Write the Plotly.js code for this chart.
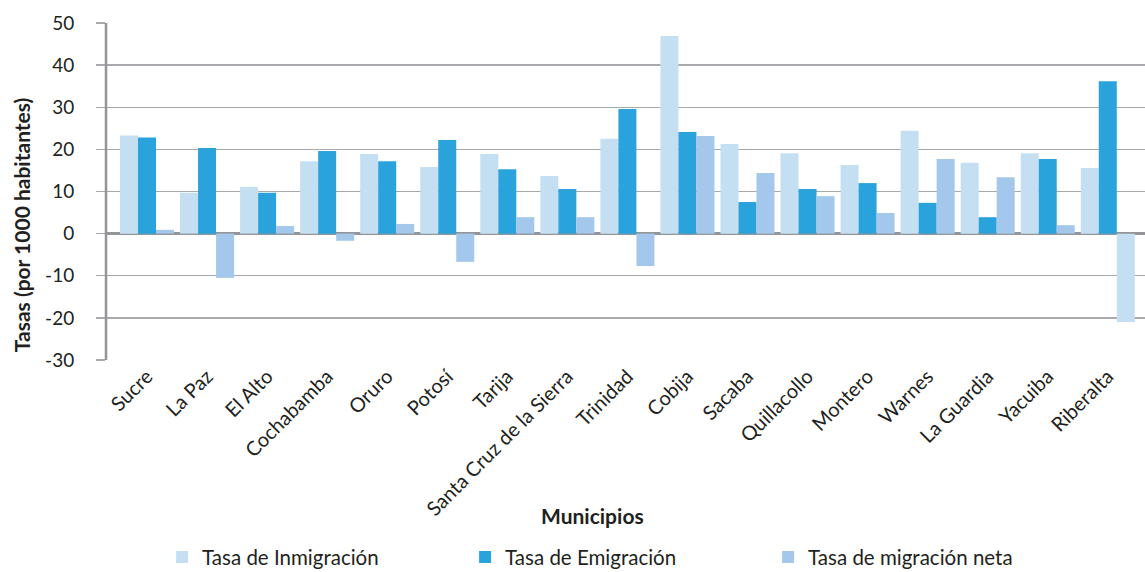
<!DOCTYPE html>
<html>
<head>
<meta charset="utf-8">
<script src="https://cdn.plot.ly/plotly-3.0.1.min.js"></script>
<style>html,body{margin:0;padding:0;background:#fff;}#chart{width:1145px;height:572px;}</style>
</head>
<body>
<div id="chart"></div>
<script>
var municipios = ["Sucre","La Paz","El Alto","Cochabamba","Oruro","Potosí","Tarija","Santa Cruz de la Sierra","Trinidad","Cobija","Sacaba","Quillacollo","Montero","Warnes","La Guardia","Yacuiba","Riberalta"];
var inmigracion = [23.3, 9.7, 11.1, 17.2, 18.9, 15.8, 18.9, 13.7, 22.5, 46.9, 21.3, 19.1, 16.3, 24.4, 16.8, 19.1, 15.6];
var emigracion = [22.8, 20.3, 9.7, 19.6, 17.2, 22.2, 15.3, 10.6, 29.6, 24.1, 7.5, 10.6, 12.0, 7.3, 3.9, 17.7, 36.2];
var neta = [0.9, -10.5, 1.8, -1.7, 2.3, -6.7, 3.9, 3.9, -7.7, 23.2, 14.4, 8.9, 4.9, 17.7, 13.4, 2.0, -21.0];
var yTicks = [-30, -20, -10, 0, 10, 20, 30, 40, 50];
var xTitle = "Municipios";
var yTitle = "Tasas (por 1000 habitantes)";

var cInm = "#c5dff2", cEmi = "#2aa3dc", cNet = "#a3c8eb";
var netColors = neta.map(function(v, i){ return i === neta.length - 1 ? cInm : cNet; });

var traces = [
  {type:"bar", name:"Tasa de Inmigración", x:municipios, y:inmigracion, marker:{color:cInm}},
  {type:"bar", name:"Tasa de Emigración", x:municipios, y:emigracion, marker:{color:cEmi}},
  {type:"bar", name:"Tasa de migración neta", x:municipios, y:neta, marker:{color:netColors}}
];

var font = "Lato, 'Noto Sans', sans-serif";
var layout = {
  width:1145, height:572,
  margin:{l:106, r:0, t:23, b:212, autoexpand:false},
  paper_bgcolor:"#fff", plot_bgcolor:"#fff",
  barmode:"group", bargap:0.1, bargroupgap:0,
  font:{family:font, size:18, color:"#231f20"},
  showlegend:true,
  legend:{orientation:"h", x:0.054, xanchor:"left", y:-0.585, yanchor:"middle", entrywidth:258, entrywidthmode:"pixels", font:{size:20.5, color:"#231f20"}, traceorder:"normal"},
  xaxis:{
    type:"category", range:[-0.683, 16.62], tickangle:-45, tickfont:{size:20, color:"#231f20"},
    showgrid:false, showline:false, ticks:"", automargin:false
  },
  yaxis:{
    range:[-30, 50], tickvals:yTicks, ticktext:yTicks.map(String),
    showgrid:true, gridcolor:"#a7a9ac", gridwidth:1.3,
    zeroline:true, zerolinecolor:"#939598", zerolinewidth:2.5,
    showline:false, ticks:"outside", ticklen:9, tickcolor:"#a7a9ac", tickwidth:1.3,
    ticklabelstandoff:18,
    tickfont:{size:19, color:"#231f20"}, automargin:false
  },
  annotations:[
    {text:"<b>"+xTitle+"</b>", xref:"paper", yref:"paper", x:0.468, y:-0.46, xanchor:"center", yanchor:"middle", showarrow:false, font:{size:21, color:"#231f20"}},
    {text:"<b>"+yTitle+"</b>", xref:"paper", yref:"paper", x:-0.0818, y:0.4, xanchor:"center", yanchor:"middle", textangle:-90, showarrow:false, font:{size:21, color:"#231f20"}}
  ],
  shapes:[{type:"line", xref:"paper", yref:"paper", x0:0, x1:0, y0:0, y1:1, line:{color:"#939598", width:2.5}}]
};

Plotly.newPlot("chart", traces, layout, {displayModeBar:false, staticPlot:true});
</script>
</body>
</html>
